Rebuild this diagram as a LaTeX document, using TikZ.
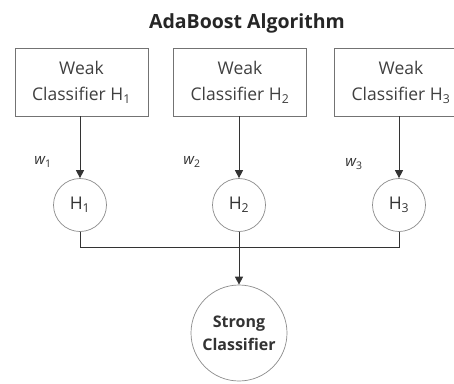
\documentclass[tikz,border=0pt]{standalone}
\usepackage{fontspec}
\setmainfont{Open Sans}
\usetikzlibrary{arrows.meta}
\begin{document}
\begin{tikzpicture}[x=1pt,y=-1pt,
  wbox/.style={draw=black!55, line width=0.9pt, minimum width=133pt, minimum height=68pt, align=center, font=\fontsize{17.5}{26}\selectfont, text=black!75, inner sep=0pt},
  hnode/.style={circle, draw=black!45, line width=0.7pt, minimum size=53pt, inner sep=0pt, font=\fontsize{17.5}{20}\selectfont, text=black!80},
  conn/.style={draw=black!80, line width=0.9pt},
  arr/.style={conn, -{Triangle[length=8pt,width=8pt]}},
  wlab/.style={font=\fontsize{15}{17}\selectfont\itshape, text=black!80}]
\useasboundingbox (0,0) rectangle (454,383);
\fill[white] (0,0) rectangle (454,383);
\node[font=\fontsize{19.5}{22}\selectfont\bfseries, text=black!85] (title) at (247,23) {AdaBoost Algorithm};
\node[wbox] (b1) at (81.5,82) {Weak\\Classifier H\textsubscript{1}};
\node[wbox] (b2) at (240,82) {Weak\\Classifier H\textsubscript{2}};
\node[wbox] (b3) at (401,82) {Weak\\Classifier H\textsubscript{3}};
\node[hnode] (h1) at (80,205) {H\textsubscript{1}};
\node[hnode] (h2) at (239,205) {H\textsubscript{2}};
\node[hnode] (h3) at (399,205) {H\textsubscript{3}};
\node[circle, draw=black!45, line width=0.7pt, minimum size=96pt, inner sep=0pt, align=center, font=\fontsize{16}{23}\selectfont\bfseries, text=black!80] (s) at (239,333) {Strong\\Classifier};
\node[wlab] (w1) at (43,162) {w\textsubscript{\upshape 1}};
\node[wlab] (w2) at (192,162) {w\textsubscript{\upshape 2}};
\node[wlab] (w3) at (354,164) {w\textsubscript{\upshape 3}};
\draw[arr] (b1.south -| h1) -- (h1.north);
\draw[arr] (b2.south -| h2) -- (h2.north);
\draw[arr] (b3.south -| h3) -- (h3.north);
\coordinate (j1) at (80,247);
\coordinate (j3) at (399,247);
\draw[conn] (h1.south) -- (j1) -- (j3) -- (h3.south);
\draw[arr] (h2.south) -- (s.north);
\end{tikzpicture}
\end{document}
